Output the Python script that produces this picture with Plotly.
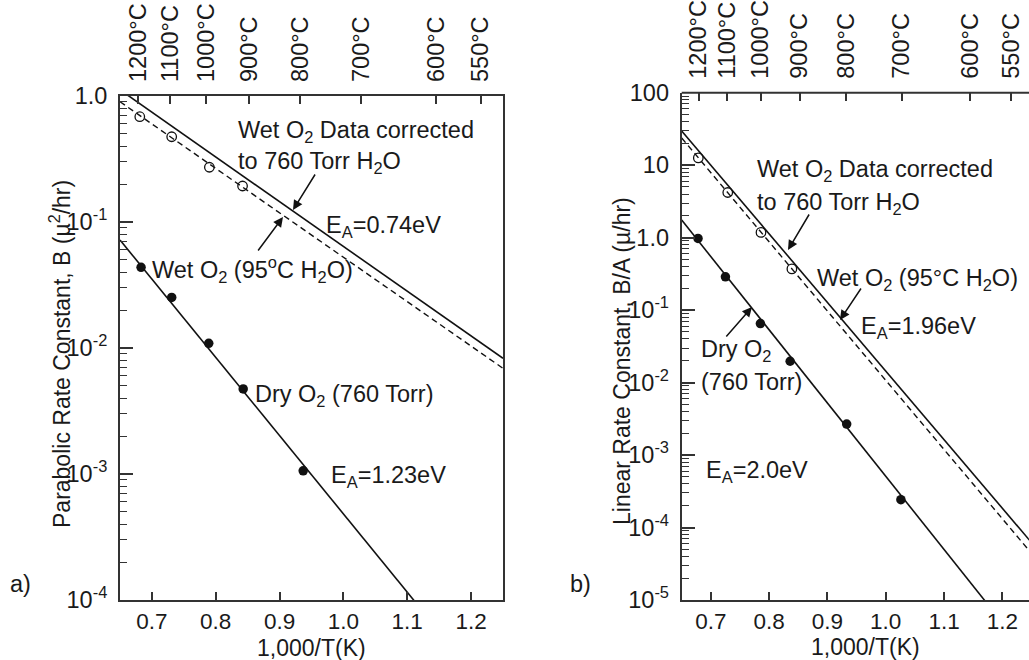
import plotly.graph_objects as go

# ---------------- data ----------------
# panel a) parabolic rate constant B (µ²/hr)
a_wet_x = [0.681, 0.731, 0.790, 0.842]
a_wet_y = [0.685, 0.475, 0.272, 0.193]
a_dry_x = [0.683, 0.731, 0.789, 0.843, 0.937]
a_dry_y = [0.0437, 0.0252, 0.0109, 0.00473, 0.00106]
a_line_x = [0.65, 1.25]
a_wetcorr_y = [1.12, 0.00828]
a_wet95_y = [0.90, 0.0069]
a_dryfit_y = [0.072, 1.35e-5]

# panel b) linear rate constant B/A (µ/hr)
b_wet_x = [0.6785, 0.729, 0.786, 0.839]
b_wet_y = [12.6, 4.2, 1.18, 0.37]
b_dry_x = [0.678, 0.725, 0.785, 0.836, 0.933, 1.026]
b_dry_y = [0.975, 0.288, 0.0653, 0.0197, 0.00268, 0.000242]
b_line_x = [0.65, 1.25]
b_wetcorr_y = [29.6, 6.2e-5]
b_wet95_y = [23.7, 4.4e-5]
b_dryfit_y = [1.75, 1.52e-6]

temps_C = [1200, 1100, 1000, 900, 800, 700, 600, 550]
temp_labels = [f"{t}°C" for t in temps_C]
temp_pos = [1000.0 / (t + 273.15) for t in temps_C]

x_ticks = [0.7, 0.8, 0.9, 1.0, 1.1, 1.2]
x_ticktext = ["0.7", "0.8", "0.9", "1.0", "1.1", "1.2"]
a_yticks = [1e-4, 1e-3, 1e-2, 1e-1, 1.0]
a_yticktext = ["10<sup>-4</sup>", "10<sup>-3</sup>", "10<sup>-2</sup>", "10<sup>-1</sup>", "1.0"]
b_yticks = [1e-5, 1e-4, 1e-3, 1e-2, 1e-1, 1.0, 10, 100]
b_yticktext = ["10<sup>-5</sup>", "10<sup>-4</sup>", "10<sup>-3</sup>", "10<sup>-2</sup>",
               "10<sup>-1</sup>", "1.0", "10", "100"]

# ---------------- figure ----------------
W, H = 1029, 660
FONT = "Arial, 'Liberation Sans', Helvetica, sans-serif"
TXT = "#1a1a1a"
AX = "#333333"
LN = "#111111"
FS = 23.5

fig = go.Figure()

def add_panel(xa, ya, lx, corr, wet95, dryfit, wx, wy, dx, dy):
    fig.add_trace(go.Scatter(x=lx, y=corr, mode="lines", xaxis=xa, yaxis=ya,
                             line=dict(color=LN, width=1.6), showlegend=False, hoverinfo="skip"))
    fig.add_trace(go.Scatter(x=lx, y=wet95, mode="lines", xaxis=xa, yaxis=ya,
                             line=dict(color=LN, width=1.4, dash="6px,4px"), showlegend=False, hoverinfo="skip"))
    fig.add_trace(go.Scatter(x=lx, y=dryfit, mode="lines", xaxis=xa, yaxis=ya,
                             line=dict(color=LN, width=1.6), showlegend=False, hoverinfo="skip"))
    fig.add_trace(go.Scatter(x=wx, y=wy, mode="markers", xaxis=xa, yaxis=ya,
                             marker=dict(symbol="circle-open", size=9.5, color=LN, line=dict(width=1.3)),
                             showlegend=False))
    fig.add_trace(go.Scatter(x=dx, y=dy, mode="markers", xaxis=xa, yaxis=ya,
                             marker=dict(symbol="circle", size=9.5, color=LN),
                             showlegend=False))

add_panel("x", "y", a_line_x, a_wetcorr_y, a_wet95_y, a_dryfit_y, a_wet_x, a_wet_y, a_dry_x, a_dry_y)
add_panel("x2", "y2", b_line_x, b_wetcorr_y, b_wet95_y, b_dryfit_y, b_wet_x, b_wet_y, b_dry_x, b_dry_y)
# empty traces so the top (temperature) axes are drawn
fig.add_trace(go.Scatter(x=[None], y=[None], xaxis="x3", yaxis="y", showlegend=False, hoverinfo="skip"))
fig.add_trace(go.Scatter(x=[None], y=[None], xaxis="x4", yaxis="y2", showlegend=False, hoverinfo="skip"))

def px(x):
    return x / W

def py(y):
    return 1 - y / H

a_dom_x = [px(120), px(503)]
b_dom_x = [px(681.7), 1.0]
a_dom_y = [py(600), py(96)]
b_dom_y = [py(600), py(92.7)]

tickfont = dict(family=FONT, size=FS, color=TXT)

def xbottom(domain, anchor, rng, mirror):
    return dict(domain=domain, anchor=anchor, range=rng, tickvals=x_ticks, ticktext=x_ticktext,
                ticks="inside", ticklen=8, tickwidth=1.5, tickcolor=AX, showline=True, linecolor=AX,
                linewidth=2, mirror=mirror, showgrid=False, zeroline=False,
                tickfont=dict(tickfont, size=22.5), ticklabelstandoff=0, automargin=False)

def xtop(over, anchor, rng):
    return dict(overlaying=over, anchor=anchor, side="top", range=rng, tickvals=temp_pos,
                ticktext=temp_labels, tickangle=-90, ticks="inside", ticklen=8, tickwidth=1.5,
                tickcolor=AX, showline=False, showgrid=False, zeroline=False, tickfont=tickfont,
                ticklabelstandoff=13, automargin=False)

def yaxis(domain, anchor, rng, tv, tt, minors, mirror):
    return dict(domain=domain, anchor=anchor, type="log", range=rng, tickvals=tv, ticktext=tt,
                ticks="inside", ticklen=13, tickwidth=1.5, tickcolor=AX, showline=True,
                linecolor=AX, linewidth=2, mirror=mirror, showgrid=False, zeroline=False,
                tickfont=tickfont, ticklabelstandoff=6, automargin=False,
                minor=dict(tickvals=minors, ticks="inside", ticklen=7, tickwidth=1.2,
                           tickcolor=AX, showgrid=False))

a_minor = [m * 10.0 ** e for e in range(-4, 0) for m in range(2, 10)]
b_minor = [m * 10.0 ** e for e in range(-5, 2) for m in range(2, 10)]

fig.update_layout(
    width=W, height=H, margin=dict(l=0, r=0, t=0, b=0, autoexpand=False),
    paper_bgcolor="white", plot_bgcolor="white",
    font=dict(family=FONT, color=TXT),
    xaxis=xbottom(a_dom_x, "y", [0.65, 1.25], True),
    xaxis2=xbottom(b_dom_x, "y2", [0.65, 1.2457], False),
    xaxis3=xtop("x", "y", [0.65, 1.25]),
    xaxis4=xtop("x2", "y2", [0.65, 1.2457]),
    yaxis=yaxis(a_dom_y, "x", [-4, 0], a_yticks, a_yticktext, a_minor, True),
    yaxis2=yaxis(b_dom_y, "x2", [-5, 2], b_yticks, b_yticktext, b_minor, False),
    showlegend=False,
)

# top line of right panel (no right border visible there)
fig.add_shape(type="line", xref="paper", yref="paper", x0=b_dom_x[0], x1=1.0,
              y0=b_dom_y[1], y1=b_dom_y[1], line=dict(color=AX, width=2))

AF = dict(family=FONT, size=FS, color=TXT)

def text(x, y, s, xanchor="left", angle=0, size=FS):
    fig.add_annotation(x=px(x), y=py(y), xref="paper", yref="paper", text=s, showarrow=False,
                       xanchor=xanchor, yanchor="middle", font=dict(AF, size=size), textangle=angle)

def arrow(x0, y0, x1, y1):
    fig.add_annotation(x=px(x1), y=py(y1), xref="paper", yref="paper", ax=x0 - x1, ay=y0 - y1,
                       axref="pixel", ayref="pixel", text="", showarrow=True, arrowhead=2,
                       arrowsize=1.3, arrowwidth=1.5, arrowcolor=LN)

# panel a texts
text(236, 131, "Wet O<sub>2</sub> Data corrected")
text(236, 162, "to 760 Torr H<sub>2</sub>O")
text(324, 226, "E<sub>A</sub>=0.74eV")
text(150, 269, "Wet O<sub>2</sub> (95<sup>o</sup>C H<sub>2</sub>O)")
text(253, 395, "Dry O<sub>2</sub> (760 Torr)")
text(329, 476, "E<sub>A</sub>=1.23eV")
arrow(316, 173, 293, 210)
arrow(257, 252, 283, 217)
text(8, 584, "a)")
text(60, 354, "Parabolic Rate Constant, B (µ<sup>2</sup>/hr)", xanchor="center", angle=-90, size=23)
text(311, 648, "1,000/T(K)", xanchor="center", size=23)

# panel b texts
text(755, 170, "Wet O<sub>2</sub> Data corrected")
text(755, 203, "to 760 Torr H<sub>2</sub>O")
text(815, 279, "Wet O<sub>2</sub> (95°C H<sub>2</sub>O)")
text(859, 327, "E<sub>A</sub>=1.96eV")
text(699, 350, "Dry O<sub>2</sub>")
text(699, 382, "(760 Torr)")
text(704, 471, "E<sub>A</sub>=2.0eV")
arrow(810, 213, 788, 250)
arrow(862, 287, 840, 320)
arrow(725, 338, 752, 307)
text(568, 584, "b)")
text(622, 361, "Linear Rate Constant, B/A (µ/hr)", xanchor="center", angle=-90, size=23)
text(865, 647, "1,000/T(K)", xanchor="center", size=23)

fig.write_html("out.html", config={"displayModeBar": False},
               post_script="document.body.style.margin='0';document.body.style.overflow='hidden';")
